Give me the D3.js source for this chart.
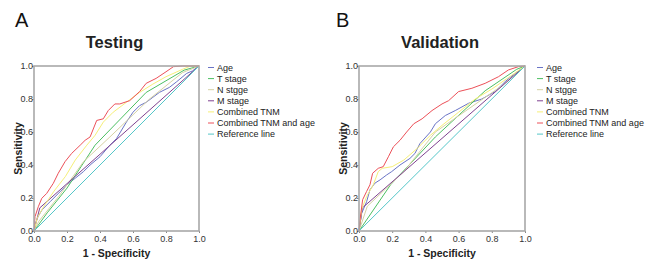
<!DOCTYPE html>
<html>
<head>
<meta charset="utf-8">
<script src="https://cdn.jsdelivr.net/npm/d3@7"></script>
<style>
  body { margin: 0; background: #fff; }
  svg { font-family: Arial, "Liberation Sans", sans-serif; }
</style>
</head>
<body>
<div id="wrapper"></div>
<script>
// series names and tick labels
const seriesNames = ["Age", "T stage", "N stgge", "M stage", "Combined TNM", "Combined TNM and age", "Reference line"];
const seriesColors = ["#6a74c6", "#4cbf62", "#d6d2a4", "#7f4290", "#f6ef78", "#ec5058", "#55c6c8"];
const tickValues = [0, 0.2, 0.4, 0.6, 0.8, 1.0];

// Testing panel: [1 - specificity, sensitivity]
const testAge = [[0,0],[0.01,0.05],[0.026,0.09],[0.05,0.13],[0.1,0.18],[0.15,0.23],[0.2,0.28],[0.25,0.32],[0.3,0.36],[0.34,0.4],[0.4,0.45],[0.46,0.52],[0.5,0.56],[0.56,0.66],[0.6,0.72],[0.64,0.76],[0.68,0.78],[0.72,0.81],[0.76,0.84],[0.82,0.87],[0.865,0.905],[0.925,0.955],[0.96,0.97],[1,1]];
const testT = [[0,0],[0.08,0.11],[0.2,0.26],[0.37,0.52],[0.68,0.84],[0.91,0.975],[1,1]];
const testN = [[0,0],[0.03,0.06],[0.15,0.21],[0.3,0.42],[0.46,0.57],[0.7,0.8],[0.9,0.96],[1,1]];
const testM = [[0,0],[0.035,0.14],[1,1]];
const testTNM = [[0,0],[0.02,0.08],[0.06,0.15],[0.12,0.24],[0.19,0.33],[0.25,0.43],[0.32,0.52],[0.37,0.58],[0.42,0.66],[0.48,0.72],[0.56,0.78],[0.64,0.84],[0.72,0.89],[0.8,0.935],[0.9,0.98],[0.95,1],[1,1]];
const testTNMAge = [[0,0],[0.006,0.087],[0.026,0.147],[0.047,0.198],[0.077,0.228],[0.117,0.289],[0.147,0.35],[0.188,0.42],[0.228,0.47],[0.28,0.52],[0.31,0.55],[0.34,0.57],[0.38,0.67],[0.42,0.68],[0.45,0.73],[0.49,0.77],[0.52,0.77],[0.58,0.79],[0.64,0.845],[0.68,0.895],[0.74,0.925],[0.8,0.965],[0.845,0.996],[0.9,1],[1,1]];

// Validation panel
const valAge = [[0,0],[0.016,0.107],[0.046,0.178],[0.066,0.25],[0.096,0.29],[0.127,0.31],[0.167,0.34],[0.197,0.36],[0.247,0.4],[0.307,0.44],[0.337,0.47],[0.367,0.53],[0.43,0.6],[0.46,0.65],[0.52,0.7],[0.58,0.73],[0.66,0.774],[0.74,0.8],[0.82,0.845],[0.88,0.905],[0.94,0.955],[1,1]];
const valT = [[0,0],[0.19,0.28],[0.46,0.57],[0.76,0.85],[0.95,0.98],[1,1]];
const valN = [[0,0],[0.05,0.15],[0.27,0.36],[0.46,0.6],[0.86,0.88],[1,1]];
const valM = [[0,0],[0.02,0.14],[1,1]];
const valTNM = [[0,0],[0.016,0.13],[0.046,0.21],[0.086,0.28],[0.116,0.36],[0.14,0.38],[0.2,0.39],[0.27,0.43],[0.35,0.5],[0.43,0.58],[0.5,0.64],[0.6,0.72],[0.7,0.8],[0.8,0.86],[0.9,0.93],[1,1]];
const valTNMAge = [[0,0],[0.006,0.067],[0.022,0.19],[0.046,0.24],[0.066,0.28],[0.082,0.35],[0.116,0.38],[0.146,0.39],[0.177,0.45],[0.207,0.51],[0.247,0.55],[0.287,0.6],[0.33,0.65],[0.38,0.68],[0.44,0.73],[0.5,0.77],[0.54,0.79],[0.6,0.845],[0.68,0.865],[0.76,0.895],[0.84,0.935],[0.9,0.976],[0.96,0.996],[1,1]];

const refLine = [[0,0],[1,1]];

const svg = d3.select("#wrapper").append("svg")
    .attr("width", 650)
    .attr("height", 275);

function buildPanel(opts) {
    const x = d3.scaleLinear().domain([0, 1]).range([opts.left, opts.right]);
    const y = d3.scaleLinear().domain([0, 1]).range([231, 66]);

    const g = svg.append("g");

    g.append("text")
        .attr("x", opts.letterX)
        .attr("y", 27)
        .style("font-size", "20px")
        .style("fill", "#111")
        .text(opts.letter);

    g.append("text")
        .attr("x", (opts.left + opts.right) / 2 - 2)
        .attr("y", 48)
        .attr("text-anchor", "middle")
        .style("font-size", "16.5px")
        .style("font-weight", "bold")
        .style("fill", "#222")
        .text(opts.title);

    const xAxis = d3.axisBottom(x).tickValues(tickValues).tickSize(2).tickFormat(d3.format(".1f"));
    const yAxis = d3.axisLeft(y).tickValues(tickValues).tickSize(2).tickFormat(d3.format(".1f"));

    const gx = g.append("g").attr("transform", "translate(0,231)").call(xAxis);
    const gy = g.append("g").attr("transform", "translate(" + opts.left + ",0)").call(yAxis);
    [gx, gy].forEach(a => {
        a.select(".domain").remove();
        a.selectAll("line").attr("stroke", "#888");
        a.selectAll("text").style("font-size", "9px").style("fill", "#333")
            .style("font-family", "Arial, 'Liberation Sans', sans-serif");
    });
    gx.selectAll("text").attr("dy", "0.71em").attr("y", 5);
    gy.selectAll("text").attr("x", -1).attr("dy", "0.3em");

    const line = d3.line()
        .x(d => x(d[0]))
        .y(d => y(d[1]));

    opts.series.forEach((s, i) => {
        g.append("path")
            .attr("d", line(s))
            .attr("fill", "none")
            .attr("stroke", seriesColors[i])
            .attr("stroke-width", 1);
    });

    g.append("rect")
        .attr("x", opts.left)
        .attr("y", 66)
        .attr("width", opts.right - opts.left)
        .attr("height", 165)
        .attr("fill", "none")
        .attr("stroke", "#a8a8a8")
        .attr("stroke-width", 1.6);

    g.append("text")
        .attr("x", (opts.left + opts.right) / 2)
        .attr("y", 257)
        .attr("text-anchor", "middle")
        .style("font-size", "10.5px")
        .style("font-weight", "bold")
        .style("fill", "#222")
        .text("1 - Specificity");

    g.append("text")
        .attr("transform", "translate(" + (opts.left - 12) + ",148.5)rotate(-90)")
        .attr("text-anchor", "middle")
        .style("font-size", "10.5px")
        .style("font-weight", "bold")
        .style("fill", "#222")
        .text("Sensitivity");

    // legend
    const legend = g.append("g");
    seriesNames.forEach((name, i) => {
        const ly = 67.5 + i * 11.1;
        legend.append("line")
            .attr("x1", opts.legendX)
            .attr("x2", opts.legendX + 6)
            .attr("y1", ly)
            .attr("y2", ly)
            .attr("stroke", seriesColors[i])
            .attr("stroke-width", 1);
        legend.append("text")
            .attr("x", opts.legendX + 9)
            .attr("y", ly)
            .attr("dy", "0.35em")
            .style("font-size", "9px")
            .style("fill", "#222")
            .text(name);
    });
}

buildPanel({
    letter: "A", letterX: 15, title: "Testing", left: 34, right: 199, legendX: 208,
    series: [testAge, testT, testN, testM, testTNM, testTNMAge, refLine]
});

buildPanel({
    letter: "B", letterX: 336, title: "Validation", left: 359, right: 525, legendX: 537,
    series: [valAge, valT, valN, valM, valTNM, valTNMAge, refLine]
});
</script>
</body>
</html>
